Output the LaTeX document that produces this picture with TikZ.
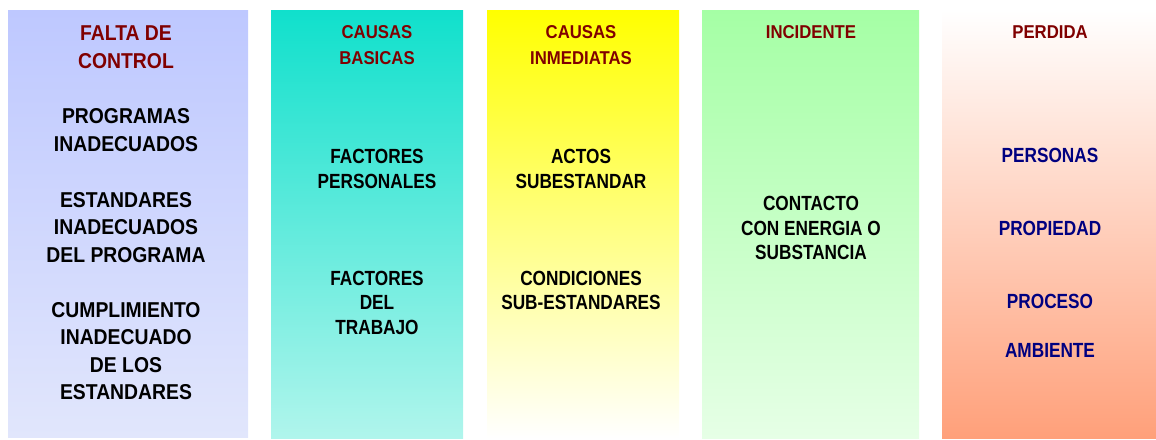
\documentclass[tikz,border=0pt]{standalone}
\usepackage{fontspec}
\setmainfont{Liberation Sans}
\newfontfamily\widefont[FakeStretch = 0.9]{Liberation Sans}
\newfontfamily\narrowfont[FakeStretch = 0.84]{Liberation Sans}

\definecolor{headred}{RGB}{128, 0, 0}
\definecolor{lossblue}{RGB}{0, 0, 128}
\definecolor{lilactop}{RGB}{190, 200, 255}
\definecolor{lilacbot}{RGB}{225, 230, 252}
\definecolor{turqtop}{RGB}{16, 224, 204}
\definecolor{turqbot}{RGB}{176, 245, 236}
\definecolor{greentop}{RGB}{165, 255, 165}
\definecolor{greenbot}{RGB}{230, 255, 230}
\definecolor{salmonbot}{RGB}{255, 160, 122}

\begin{document}
\begin{tikzpicture}[x = 1pt, y = -1pt,
		column/.style = {rectangle, inner sep = 0, anchor = north west},
		big/.style = {align = center, inner sep = 0, font = \widefont\bfseries\fontsize{21.5}{27.5}\selectfont},
		small/.style = {align = center, inner sep = 0, font = \narrowfont\bfseries\fontsize{20.5}{24.5}\selectfont},
		head/.style = {align = center, inner sep = 0, text = headred, font = \widefont\bfseries\fontsize{18.6}{25.5}\selectfont}]
	\useasboundingbox (0, 0) rectangle (1156, 439);

	\node [column, minimum width = 240pt, minimum height = 427pt, top color = lilactop, bottom color = lilacbot] (c1) at (8, 10) {};
	\node [column, minimum width = 192pt, minimum height = 428pt, top color = turqtop, bottom color = turqbot] (c2) at (271, 10) {};
	\node [column, minimum width = 192pt, minimum height = 428pt, top color = yellow, middle color = yellow!30, bottom color = white] (c3) at (487, 10) {};
	\node [column, minimum width = 217pt, minimum height = 428pt, top color = greentop, bottom color = greenbot] (c4) at (702, 10) {};
	\node [column, minimum width = 214pt, minimum height = 428pt, top color = white, bottom color = salmonbot] (c5) at (942, 10) {};

	\node [big, text = headred] (h1) at (126, 47) {FALTA DE\\CONTROL};
	\node [big] (t11) at (126, 130) {PROGRAMAS\\INADECUADOS};
	\node [big] (t12) at (126, 227.5) {ESTANDARES\\INADECUADOS\\DEL PROGRAMA};
	\node [big] (t13) at (126, 351) {CUMPLIMIENTO\\INADECUADO\\DE LOS\\ESTANDARES};

	\node [head] (h2) at (377, 45) {CAUSAS\\BASICAS};
	\node [small] (t21) at (377, 169) {FACTORES\\PERSONALES};
	\node [small] (t22) at (377, 302.5) {FACTORES\\DEL\\TRABAJO};

	\node [head] (h3) at (581, 45) {CAUSAS\\INMEDIATAS};
	\node [small] (t31) at (581, 169) {ACTOS\\SUBESTANDAR};
	\node [small] (t32) at (581, 290.5) {CONDICIONES\\SUB-ESTANDARES};

	\node [head] (h4) at (811, 32) {INCIDENTE};
	\node [small] (t41) at (811, 228) {CONTACTO\\CON ENERGIA O\\SUBSTANCIA};

	\node [head] (h5) at (1050, 32) {PERDIDA};
	\foreach \name/\y in {PERSONAS/155, PROPIEDAD/228, PROCESO/301, AMBIENTE/350} {
		\node [small, text = lossblue] (t5\y) at (1050, \y) {\name};
	}
\end{tikzpicture}
\end{document}
